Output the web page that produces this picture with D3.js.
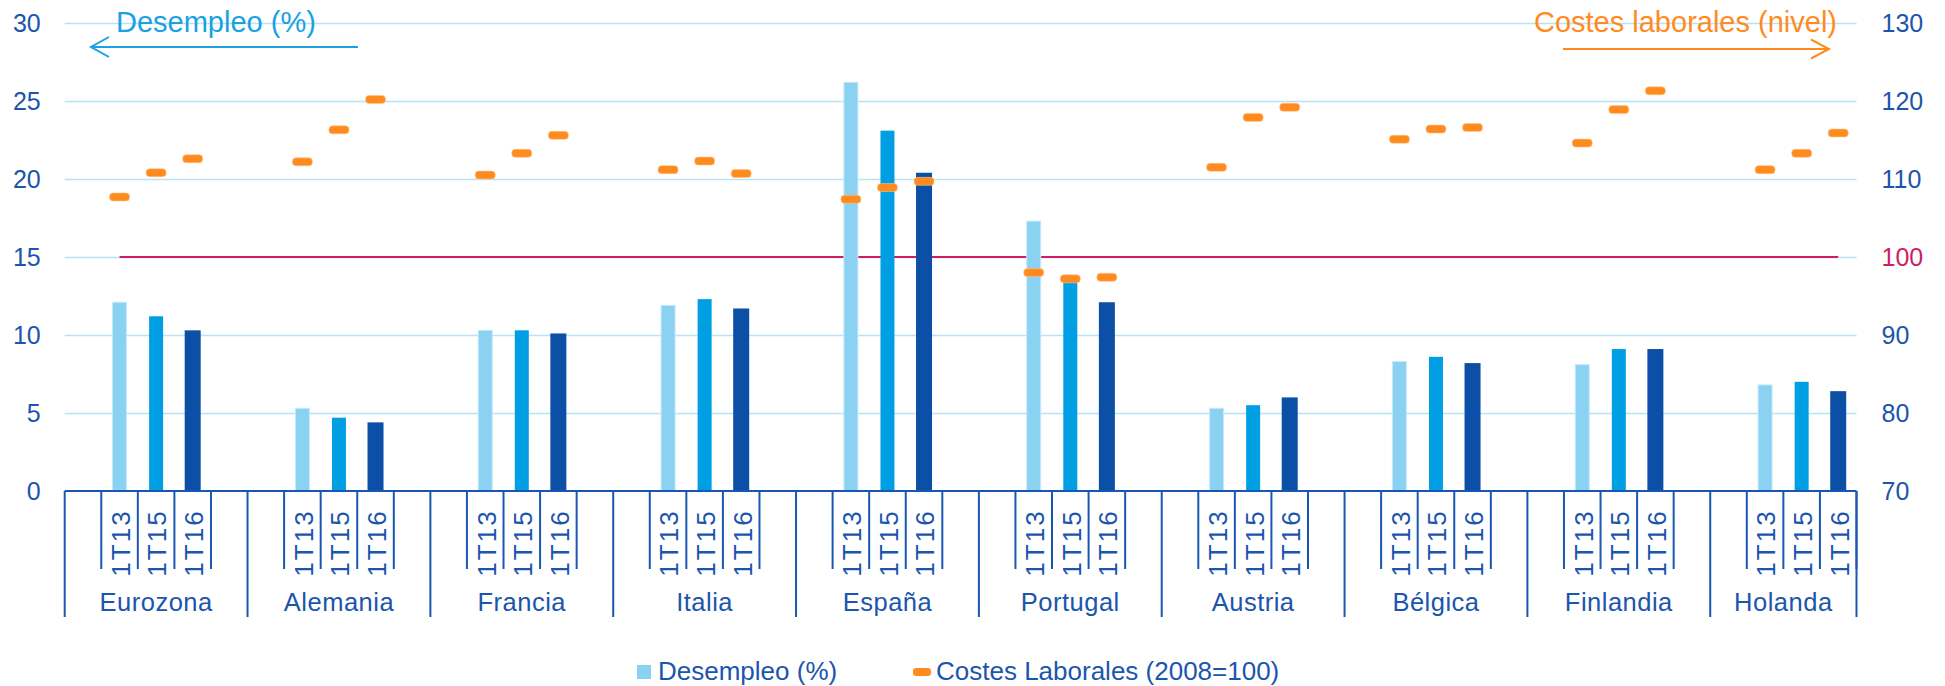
<!DOCTYPE html>
<html>
<head>
<meta charset="utf-8">
<script src="https://cdn.jsdelivr.net/npm/d3@7"></script>
<style>
  html, body { margin: 0; padding: 0; background: #ffffff; }
  svg { display: block; font-family: "Liberation Sans", Arial, sans-serif; }
</style>
</head>
<body>
<svg id="chart" width="1945" height="686"></svg>
<script>
// Countries and quarters shown on the two-level category axis
const countries = ["Eurozona", "Alemania", "Francia", "Italia", "España", "Portugal", "Austria", "Bélgica", "Finlandia", "Holanda"];
const periods = ["1T13", "1T15", "1T16"];

// Unemployment rate (%), left axis
const desempleo1T13 = [12.1, 5.3, 10.3, 11.9, 26.2, 17.3, 5.3, 8.3, 8.1, 6.8];
const desempleo1T15 = [11.2, 4.7, 10.3, 12.3, 23.1, 13.5, 5.5, 8.6, 9.1, 7.0];
const desempleo1T16 = [10.3, 4.4, 10.1, 11.7, 20.4, 12.1, 6.0, 8.2, 9.1, 6.4];

// Labour cost level (2008 = 100), right axis
const costes1T13 = [107.7, 112.2, 110.5, 111.2, 107.4, 98.0, 111.5, 115.1, 114.6, 111.2];
const costes1T15 = [110.8, 116.3, 113.3, 112.3, 108.9, 97.2, 117.9, 116.4, 118.9, 113.3];
const costes1T16 = [112.6, 120.2, 115.6, 110.7, 109.7, 97.4, 119.2, 116.6, 121.3, 115.9];

// Reference level of the cost index
const referencia = 100;

// Tick labels
const leftTicks = [0, 5, 10, 15, 20, 25, 30];
const rightTicks = [70, 80, 90, 100, 110, 120, 130];

const desempleo = [desempleo1T13, desempleo1T15, desempleo1T16];
const costes = [costes1T13, costes1T15, costes1T16];

const C = {
  text: "#1b55ad",
  axis: "#1a56b3",
  grid: "#b5e4f8",
  bars: ["#8bd1f2", "#009fe3", "#0b50a6"],
  orange: "#ff8b1e",
  ref: "#cf1f62",
  blueNote: "#19a1e2"
};

const svg = d3.select("#chart");
const plotLeft = 64.7, plotRight = 1856.5, plotTop = 23, plotBottom = 491;

// Slots: a blank slot before and after each country's three quarters (last country has no trailing blank)
const slots = [];
countries.forEach((c, ci) => {
  slots.push({ id: c + "-a", country: ci, label: "" });
  periods.forEach((p, pi) => slots.push({ id: c + "-" + p, country: ci, period: pi, label: p }));
  if (ci < countries.length - 1) slots.push({ id: c + "-b", country: ci, label: "" });
});

const x = d3.scaleBand().domain(slots.map(d => d.id)).range([plotLeft, plotRight]).padding(0);
const bw = x.bandwidth();
const yL = d3.scaleLinear().domain([0, 30]).range([plotBottom, plotTop]);
const yR = d3.scaleLinear().domain([70, 130]).range([plotBottom, plotTop]);

// Gridlines
svg.append("g")
  .attr("transform", `translate(${plotLeft},0)`)
  .call(d3.axisLeft(yL).tickValues(leftTicks.filter(v => v > 0)).tickSize(-(plotRight - plotLeft)).tickFormat(""))
  .call(g => g.select(".domain").remove())
  .call(g => g.selectAll("line").attr("stroke", C.grid).attr("stroke-width", 1.6));

// Left axis labels
svg.append("g")
  .attr("transform", `translate(${plotLeft},0)`)
  .call(d3.axisLeft(yL).tickValues(leftTicks).tickSize(0).tickPadding(24))
  .call(g => g.select(".domain").remove())
  .call(g => g.selectAll("text").attr("fill", C.text).attr("font-size", 25)
    .attr("font-family", "Liberation Sans, Arial, sans-serif").attr("dy", "0.35em"));

// Right axis labels
svg.append("g")
  .attr("transform", `translate(${plotRight},0)`)
  .call(d3.axisRight(yR).tickValues(rightTicks).tickSize(0).tickPadding(25))
  .call(g => g.select(".domain").remove())
  .call(g => g.selectAll("text").attr("fill", d => d === referencia ? C.ref : C.text).attr("font-size", 25)
    .attr("font-family", "Liberation Sans, Arial, sans-serif").attr("dy", "0.35em"));

// Reference line at 100, from the first to the last data slot
const dataSlots = slots.filter(d => d.period !== undefined);
const refX0 = x(dataSlots[0].id) + bw / 2;
const refX1 = x(dataSlots[dataSlots.length - 1].id) + bw / 2;
svg.append("line")
  .attr("x1", refX0).attr("x2", refX1)
  .attr("y1", yR(referencia)).attr("y2", yR(referencia))
  .attr("stroke", C.ref).attr("stroke-width", 2);

// Unemployment bars
const barW = [14, 14, 16];
svg.append("g").selectAll("rect")
  .data(dataSlots)
  .join("rect")
  .attr("x", d => x(d.id) + bw / 2 - barW[d.period] / 2)
  .attr("width", d => barW[d.period])
  .attr("y", d => yL(desempleo[d.period][d.country]))
  .attr("height", d => yL(0) - yL(desempleo[d.period][d.country]))
  .attr("fill", d => C.bars[d.period])
  .attr("stroke", d => d.period === 0 ? "#c4eafb" : "none")
  .attr("stroke-width", 1);

// Labour cost markers
svg.append("g").selectAll("rect")
  .data(dataSlots)
  .join("rect")
  .attr("x", d => x(d.id) + bw / 2 - 10)
  .attr("y", d => yR(costes[d.period][d.country]) - 4)
  .attr("width", 20).attr("height", 8).attr("rx", 3.5)
  .attr("fill", C.orange)
  .attr("stroke", "#ffc58f").attr("stroke-width", 0.6);

// Category axis line
svg.append("line")
  .attr("x1", plotLeft).attr("x2", plotRight).attr("y1", plotBottom).attr("y2", plotBottom)
  .attr("stroke", C.axis).attr("stroke-width", 2.2);

// Separators: quarter boundaries (short) and country boundaries (long)
const axisG = svg.append("g").attr("stroke", C.axis).attr("stroke-width", 2);
const minorBounds = [];
dataSlots.forEach(d => { minorBounds.push(x(d.id)); minorBounds.push(x(d.id) + bw); });
axisG.selectAll("line.minor")
  .data(Array.from(new Set(minorBounds.map(v => v.toFixed(2)))).map(Number))
  .join("line").attr("class", "minor")
  .attr("x1", d => d).attr("x2", d => d).attr("y1", plotBottom).attr("y2", 569);

const countryStart = countries.map((c, ci) => x(slots.find(s => s.country === ci).id));
const majorBounds = countryStart.concat([plotRight]);
axisG.selectAll("line.major")
  .data(majorBounds)
  .join("line").attr("class", "major")
  .attr("x1", d => d).attr("x2", d => d).attr("y1", plotBottom).attr("y2", 617);

// Quarter labels (rotated)
svg.append("g").selectAll("text")
  .data(dataSlots)
  .join("text")
  .attr("transform", d => `translate(${x(d.id) + bw / 2 + 1},543) rotate(-90)`)
  .attr("text-anchor", "middle").attr("dy", "0.36em")
  .attr("font-size", 26).attr("letter-spacing", 2).attr("fill", C.text)
  .text(d => d.label);

// Country labels
svg.append("g").selectAll("text")
  .data(countries)
  .join("text")
  .attr("x", (c, i) => (majorBounds[i] + majorBounds[i + 1]) / 2)
  .attr("y", 611)
  .attr("text-anchor", "middle")
  .attr("font-size", 25.5).attr("letter-spacing", 0.5).attr("fill", C.text)
  .text(c => c);

// Axis notes with arrows
svg.append("text").attr("x", 116).attr("y", 32).attr("font-size", 29).attr("fill", C.blueNote).text("Desempleo (%)");
svg.append("path")
  .attr("d", "M358,47 L91,47 M109,37 L91,47 L109,57")
  .attr("fill", "none").attr("stroke", C.blueNote).attr("stroke-width", 2);

svg.append("text").attr("x", 1837).attr("y", 32).attr("text-anchor", "end").attr("font-size", 29).attr("fill", C.orange).text("Costes laborales (nivel)");
svg.append("path")
  .attr("d", "M1563,49 L1829,49 M1811,39.5 L1829,49 L1811,58.5")
  .attr("fill", "none").attr("stroke", C.orange).attr("stroke-width", 2);

// Legend
const lg = svg.append("g");
lg.append("rect").attr("x", 637).attr("y", 665).attr("width", 14).attr("height", 14).attr("fill", C.bars[0]);
lg.append("text").attr("x", 658).attr("y", 680).attr("font-size", 26).attr("fill", C.text).text("Desempleo (%)");
lg.append("rect").attr("x", 913).attr("y", 668).attr("width", 18).attr("height", 8).attr("rx", 3).attr("fill", C.orange);
lg.append("text").attr("x", 936).attr("y", 680).attr("font-size", 26).attr("fill", C.text).text("Costes Laborales (2008=100)");
</script>
</body>
</html>
